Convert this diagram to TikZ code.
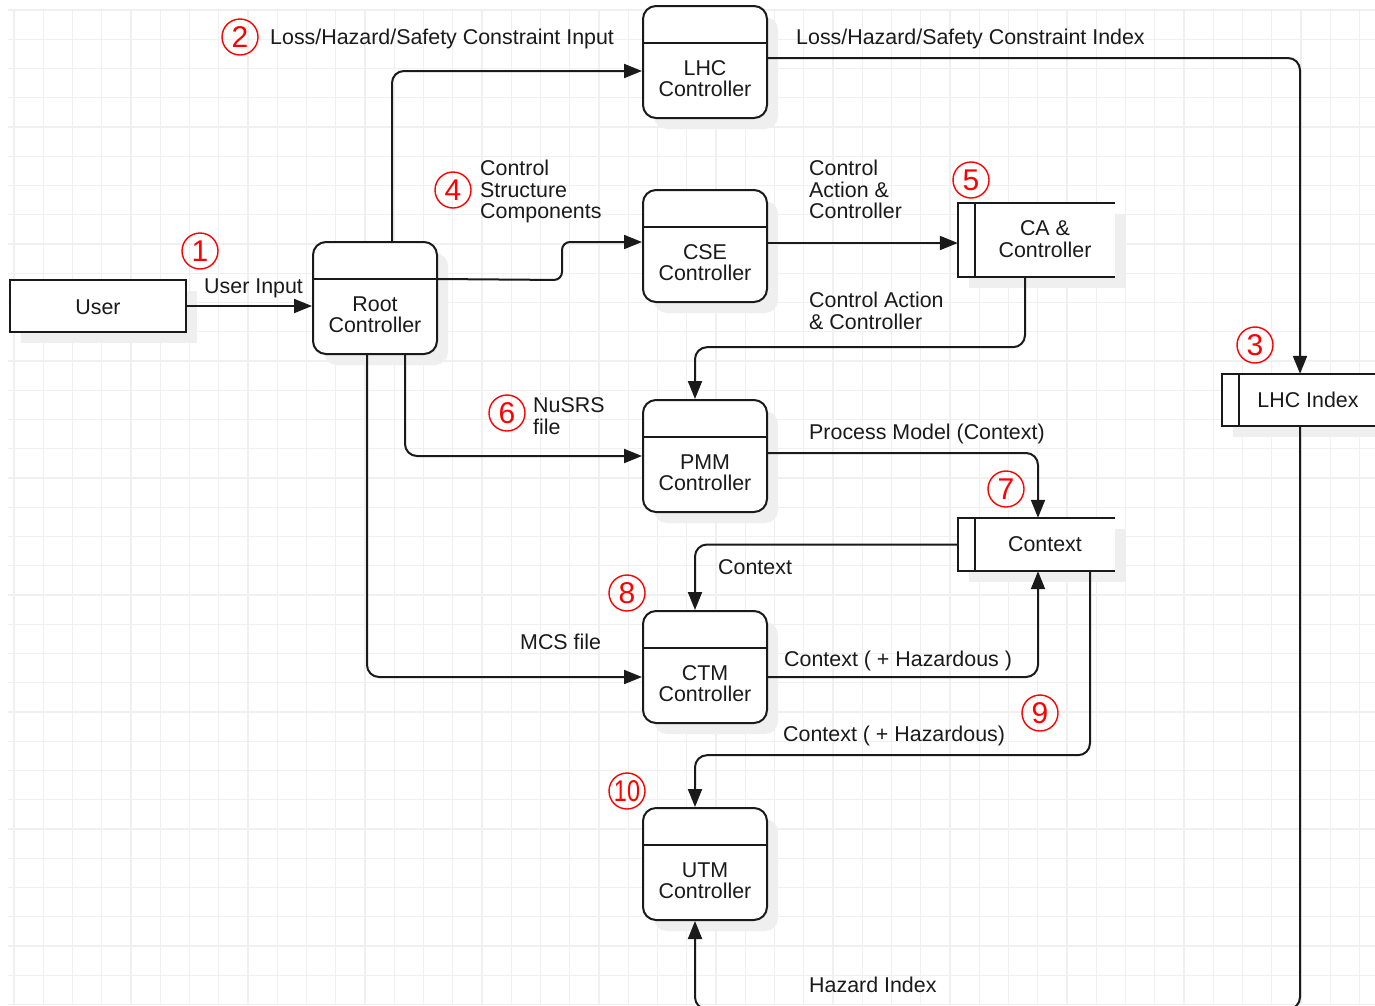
\documentclass[tikz,border=0pt]{standalone}
\usepackage{fontspec}
\setmainfont{Liberation Sans}
\usetikzlibrary{arrows.meta,calc}

\definecolor{gridc}{HTML}{F0F0F0}
\definecolor{shadowgray}{HTML}{EFEFEF}
\definecolor{markred}{HTML}{FF0000}
\definecolor{ink}{HTML}{1A1A1A}

\tikzset{
  procbox/.style={draw=ink, line width=2pt, fill=white, rounded corners=13pt,
    minimum width=124pt, minimum height=112pt, inner sep=0pt},
  plainbox/.style={draw=ink, line width=2pt, fill=white,
    minimum width=176pt, minimum height=52pt, inner sep=0pt},
  storearea/.style={inner sep=0pt, draw=none},
  boxtext/.style={font=\fontsize{21.4}{21.5}\selectfont, align=center,
    anchor=base, inner sep=0pt, text=ink},
  lbl/.style={font=\fontsize{21.4}{21.5}\selectfont, align=left,
    anchor=base west, inner sep=0pt, text=ink},
  flow/.style={draw=ink, line width=2pt, rounded corners=12pt,
    -{Triangle[length=18pt,width=14pt]}},
  num/.style={circle, draw=markred, text=markred, line width=1.4pt,
    minimum size=36pt, inner sep=0pt, font=\fontsize{30}{30}\selectfont},
  gridline/.style={draw=gridc, line width=1.2pt}
}

% process: name, centre x, centre y, caption (base = last line)
\newcommand\procnode[4]{%
  \fill[shadowgray, rounded corners=13pt] (#2-51,#3-45) rectangle (#2+73,#3+67);
  \node[procbox] (#1) at (#2,#3) {};
  \draw[ink, line width=2pt] ($(#1.north west)+(0,38)$) -- ($(#1.north east)+(0,38)$);
  \node[boxtext] (#1-text) at (#2,#3+34.5) {#4};
}

% data store: name, centre x, centre y, width, height
\newcommand\storenode[5]{%
  \fill[shadowgray] (#2-#4/2+11,#3-#5/2+11) rectangle (#2+#4/2+11,#3+#5/2+11);
  \fill[white] (#2-#4/2,#3-#5/2) rectangle (#2+#4/2,#3+#5/2);
  \node[storearea, minimum width=#4pt, minimum height=#5pt] (#1) at (#2,#3) {};
  \draw[ink, line width=2pt] (#1.north east) -- (#1.north west) -- (#1.south west) -- (#1.south east);
  \draw[ink, line width=2pt] ($(#1.north west)+(17,0)$) -- ($(#1.south west)+(17,0)$);
}

\begin{document}
\begin{tikzpicture}[x=1pt, y=-1pt]
  \useasboundingbox (0,0) rectangle (1375,1005);
  \clip (0,0) rectangle (1375,1005);
  \fill[white] (0,0) rectangle (1375,1005);

  % background grid
  \foreach \k in {0,...,46}
    \draw[gridline] ({14+29.25*\k},10) -- ({14+29.25*\k},1005);
  \foreach \k in {0,...,34}
    \draw[gridline] (8,{10+29.25*\k}) -- (1375,{10+29.25*\k});

  % external entity
  \fill[shadowgray] (21,291) rectangle (197,343);
  \node[plainbox] (user) at (98,306) {};
  \node[boxtext] (user-text) at (98,314.7) {User};

  % processes
  \procnode{root}{375}{298}{Root\\Controller}
  \procnode{lhc}{705}{62}{LHC\\Controller}
  \procnode{cse}{705}{246}{CSE\\Controller}
  \procnode{pmm}{705}{456}{PMM\\Controller}
  \procnode{ctm}{705}{667}{CTM\\Controller}
  \procnode{utm}{705}{864}{UTM\\Controller}

  % data stores
  \storenode{ca}{1036.5}{240}{157}{74}
  \node[boxtext] (ca-text) at (1045,257.2) {CA \&\\Controller};
  \storenode{lhcidx}{1300}{400}{156}{52}
  \node[boxtext] (lhcidx-text) at (1308,407.7) {LHC Index};
  \storenode{ctx}{1036.5}{544.5}{157}{53}
  \node[boxtext] (ctx-text) at (1045,551.7) {Context};

  % data flows
  \draw[flow] (user.east) -- (user.east -| root.west);
  \draw[flow] ($(root.north)+(17,0)$) |- ($(lhc.west)+(0,9)$);
  \draw[flow, rounded corners=8pt] ($(root.north east)+(0,38)$) -- ($(cse.west)+(-80,34)$) |- ($(cse.west)+(0,-4)$);
  \draw[flow] ($(cse.east)+(0,-3)$) -- ($(ca.west)+(0,3)$);
  \draw[flow] ($(lhc.east)+(0,-4)$) -| (lhcidx.north);
  \draw[flow] ($(ca.south)+(-11.5,0)$) -- ++(0,70) -| ($(pmm.north)+(-10,0)$);
  \draw[flow] ($(root.south)+(30,0)$) |- (pmm.west);
  \draw[flow] ($(root.south)+(-8,0)$) |- ($(ctm.west)+(0,10)$);
  \draw[flow] ($(pmm.east)+(0,-3)$) -| ($(ctx.north)+(1.5,0)$);
  \draw[flow] (ctx.west) -| ($(ctm.north)+(-10,0)$);
  \draw[flow] ($(ctm.east)+(0,10)$) -| ($(ctx.south)+(1.5,0)$);
  \draw[flow] ($(ctx.south)+(53.5,0)$) -- ++(0,184) -| ($(utm.north)+(-10,0)$);
  \draw[flow] (lhcidx.south) -- ++(0,583) -| ($(utm.south)+(-10,0)$);

  % flow labels (base = last line)
  \node[lbl] (l-lhcin) at (270,44.7) {Loss/Hazard/Safety Constraint Input};
  \node[lbl] (l-lhcidx) at (796,44.7) {Loss/Hazard/Safety Constraint Index};
  \node[lbl] (l-csc) at (480,218.7) {Control\\Structure\\Components};
  \node[lbl] (l-cac1) at (809,218.7) {Control\\Action \&\\Controller};
  \node[lbl] (l-cac2) at (809,329.2) {Control Action\\\& Controller};
  \node[lbl] (l-user) at (204,293.7) {User Input};
  \node[lbl] (l-nusrs) at (533,434.2) {NuSRS\\file};
  \node[lbl] (l-pm) at (809,439.7) {Process Model (Context)};
  \node[lbl] (l-ctx) at (718,574.7) {Context};
  \node[lbl] (l-mcs) at (520,649.7) {MCS file};
  \node[lbl] (l-haz1) at (784,666.7) {Context ( + Hazardous )};
  \node[lbl] (l-haz2) at (783,741.7) {Context ( + Hazardous)};
  \node[lbl] (l-hidx) at (809,992.7) {Hazard Index};

  % step numbers
  \node[num] (n1) at (200,251) {1};
  \node[num] (n2) at (240,37) {2};
  \node[num] (n3) at (1255,345) {3};
  \node[num] (n4) at (453,190) {4};
  \node[num] (n5) at (971,180) {5};
  \node[num] (n6) at (507,413) {6};
  \node[num] (n7) at (1006,489) {7};
  \node[num] (n8) at (627,593) {8};
  \node[num] (n9) at (1040,713) {9};
  \node[num] (n10) at (627,791) {\scalebox{0.78}[1]{10}};
\end{tikzpicture}
\end{document}
